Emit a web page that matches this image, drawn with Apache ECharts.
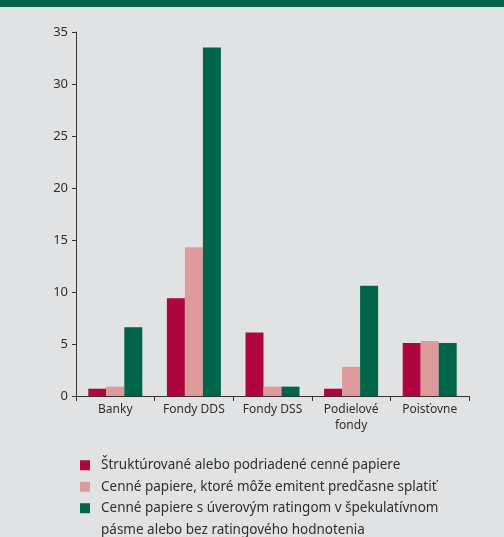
<!DOCTYPE html>
<html>
<head>
<meta charset="utf-8">
<script src="https://cdn.jsdelivr.net/npm/echarts@6/dist/echarts.min.js"></script>
<style>
  html, body { margin: 0; padding: 0; background: #e1e2e4; }
  #chart { width: 504px; height: 537px; }
</style>
</head>
<body>
<div id="chart"></div>
<script>
const categories = ['Banky', 'Fondy DDS', 'Fondy DSS', 'Podielové\nfondy', 'Poisťovne']
const seriesNames = [
  'Štruktúrované alebo podriadené cenné papiere',
  'Cenné papiere, ktoré môže emitent predčasne splatiť',
  'Cenné papiere s úverovým ratingom v špekulatívnom\npásme alebo bez ratingového hodnotenia'
]
const structured = [0.7, 9.4, 6.1, 0.7, 5.1]
const callable = [0.9, 14.3, 0.9, 2.8, 5.3]
const speculative = [6.6, 33.5, 0.9, 10.6, 5.1]
const colors = ['#b0063f', '#dd9a9a', '#00654a']

const font = '"Noto Sans", sans-serif'
const textColor = '#2f2f2f'

const chart = echarts.init(document.getElementById('chart'))

// one legend per series so the wrapped third label can sit with its first line on the icon
function legendFor(i, top) {
  return {
    orient: 'vertical',
    left: 80,
    top: top,
    padding: 0,
    data: [seriesNames[i]],
    icon: 'rect',
    itemWidth: 10,
    itemHeight: 10,
    itemGap: 0,
    selectedMode: false,
    formatter: (name) => (name.indexOf('\n') >= 0 ? '\n' + name : name),
    textStyle: { color: textColor, fontFamily: font, fontSize: 13.5, lineHeight: 21.5, padding: [0, 0, 0, 6] }
  }
}

chart.setOption({
  backgroundColor: '#e1e2e4',
  color: colors,
  graphic: [
    { type: 'rect', left: 0, top: 0, shape: { width: 504, height: 7 }, style: { fill: '#00634a' } }
  ],
  grid: { left: 76, right: 35, top: 32, bottom: 141, containLabel: false },
  legend: [
    legendFor(0, 454.5),
    legendFor(1, 476),
    legendFor(2, 476)
  ],
  xAxis: {
    type: 'category',
    data: categories,
    axisLine: { lineStyle: { color: '#333', width: 1 } },
    axisTick: { show: true, length: 5, lineStyle: { color: '#333' } },
    axisLabel: { color: textColor, fontFamily: font, fontSize: 12, lineHeight: 16, margin: 6, interval: 0 },
    splitLine: { show: false }
  },
  yAxis: {
    type: 'value',
    min: 0,
    max: 35,
    interval: 5,
    axisLine: { show: true, lineStyle: { color: '#333', width: 1 } },
    axisTick: { show: true, length: 4, lineStyle: { color: '#333' } },
    axisLabel: { color: textColor, fontFamily: font, fontSize: 13, margin: 8 },
    splitLine: { show: false }
  },
  series: [
    { name: seriesNames[0], type: 'bar', data: structured, barWidth: 18, barGap: '0%' },
    { name: seriesNames[1], type: 'bar', data: callable, barWidth: 18, barGap: '0%' },
    { name: seriesNames[2], type: 'bar', data: speculative, barWidth: 18, barGap: '0%' }
  ]
})
</script>
</body>
</html>
